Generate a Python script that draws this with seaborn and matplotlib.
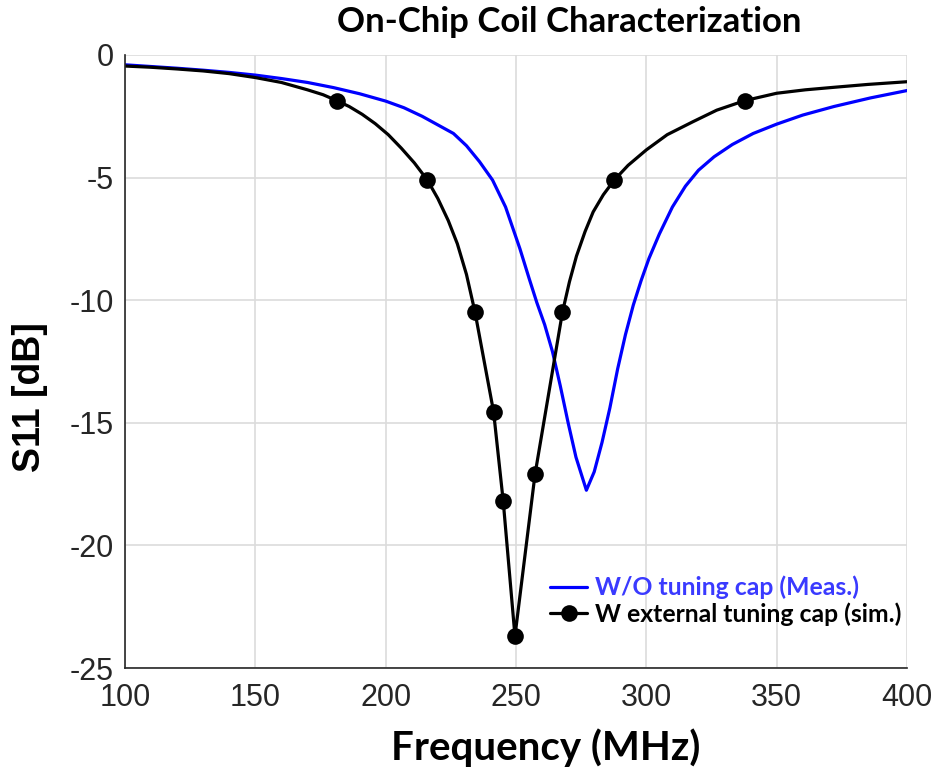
import numpy as np
import pandas as pd
import matplotlib
matplotlib.use("Agg")
import matplotlib.pyplot as plt
import seaborn as sns

# ---- data ----
meas_freq = [100, 110, 120, 130, 140, 150, 160, 170, 180, 190, 200, 207, 214, 220,
             226, 231, 236, 241, 246, 251.5, 255, 258, 261, 264, 267, 270, 273,
             277, 280, 283, 286, 289, 292, 295, 298, 301, 305, 310, 315, 320,
             326, 333, 341, 350, 360, 372, 386, 400]
meas_s11 = [-0.40, -0.47, -0.54, -0.62, -0.71, -0.82, -0.96, -1.12, -1.33, -1.58,
            -1.88, -2.15, -2.50, -2.85, -3.20, -3.70, -4.35, -5.10, -6.20, -7.90,
            -9.10, -10.1, -11.0, -12.1, -13.5, -15.0, -16.4, -17.75, -17.0, -15.8,
            -14.4, -12.8, -11.4, -10.2, -9.2, -8.3, -7.3, -6.2, -5.35, -4.7,
            -4.15, -3.65, -3.2, -2.82, -2.45, -2.1, -1.75, -1.45]

sim_freq = [100, 110, 120, 130, 140, 150, 160, 170, 176, 181.2, 186, 191, 196, 201,
            206, 211, 216, 220, 224, 227.5, 231, 234.3, 241.4, 245.1, 249.6,
            257.3, 267.8, 270.5, 273.2, 276.5, 279.6, 283.5, 287.7, 293, 300,
            308, 317.9, 327, 337.8, 350, 361, 371.7, 385, 400]
sim_s11 = [-0.45, -0.50, -0.57, -0.65, -0.76, -0.92, -1.12, -1.42, -1.62, -1.86,
           -2.10, -2.42, -2.80, -3.25, -3.80, -4.40, -5.10, -5.85, -6.75, -7.70,
           -8.95, -10.5, -14.55, -18.2, -23.7, -17.1, -10.5, -9.25, -8.2, -7.2,
           -6.4, -5.7, -5.1, -4.5, -3.87, -3.25, -2.72, -2.25, -1.86, -1.56,
           -1.42, -1.32, -1.20, -1.09]
sim_marked_freq = [181.2, 216, 234.3, 241.4, 245.1, 249.6, 257.3, 267.8, 287.7, 337.8]

x_ticks = [100, 150, 200, 250, 300, 350, 400]
y_ticks = [0, -5, -10, -15, -20, -25]

title_text = "On-Chip Coil Characterization"
x_label = "Frequency (MHz)"
y_label = "S11 [dB]"
meas_label = "W/O tuning cap (Meas.)"
sim_label = "W external tuning cap (sim.)"

# ---- plotting ----
sns.set_style("white")
plt.rcParams["font.family"] = ["Liberation Sans", "DejaVu Sans"]

fig = plt.figure(figsize=(9.37, 7.75), dpi=100)
ax = fig.add_axes([125 / 937, 1 - 668 / 775, 782 / 937, 613 / 775])

meas_df = pd.DataFrame({"f": meas_freq, "s": meas_s11})
sim_df = pd.DataFrame({"f": sim_freq, "s": sim_s11})
mark_mask = list(np.isin(sim_df["f"].values, sim_marked_freq))

sns.lineplot(data=meas_df, x="f", y="s", ax=ax, color="#0000ff", lw=2.3,
             label=meas_label, sort=False)
sns.lineplot(data=sim_df, x="f", y="s", ax=ax, color="black", lw=2.3,
             marker="o", markersize=12, markevery=mark_mask,
             markeredgewidth=0, label=sim_label, sort=False)

ax.set_xlim(100, 400)
ax.set_ylim(-25, 0)
ax.set_xticks(x_ticks)
ax.set_yticks(y_ticks)
ax.set_xticklabels([str(v) for v in x_ticks])
ax.set_yticklabels([str(v) for v in y_ticks])
ax.grid(True, color="#dcdcdc", lw=1.2)
ax.set_axisbelow(True)
for side in ["top", "right"]:
    ax.spines[side].set_visible(False)
for side in ["left", "bottom"]:
    ax.spines[side].set_color("#262626")
    ax.spines[side].set_linewidth(1.2)
ax.tick_params(axis="both", direction="in", length=7, width=1.2,
               color="#262626", labelcolor="#262626", labelsize=22)
ax.tick_params(axis="x", pad=11)
ax.tick_params(axis="y", pad=8)

ax.set_xlabel("")
ax.set_ylabel("")
fig.text(546 / 937, 1 - 748 / 775, x_label, ha="center", va="center",
         fontsize=29, fontweight="bold", color="black",
         family=["Lato", "DejaVu Sans"])
fig.text(30 / 937, 1 - 397 / 775, y_label, ha="center", va="center",
         rotation=90, fontsize=27, fontweight="bold", color="black",
         family=["Liberation Sans", "DejaVu Sans"])
fig.text(569 / 937, 1 - 22 / 775, title_text, ha="center", va="center",
         fontsize=25, fontweight="bold", color="black",
         family=["Lato", "DejaVu Sans"])

leg = ax.legend(loc="lower right", bbox_to_anchor=(901 / 937, 1 - 626 / 775),
                bbox_transform=fig.transFigure, frameon=False,
                prop={"family": ["Lato", "DejaVu Sans"], "weight": "bold", "size": 17.8},
                handlelength=1.5, handletextpad=0.3, labelspacing=0.12,
                borderpad=0, borderaxespad=0)
for txt, col in zip(leg.get_texts(), ["#3a3aff", "black"]):
    txt.set_color(col)

fig.savefig("out.png", dpi=100)
